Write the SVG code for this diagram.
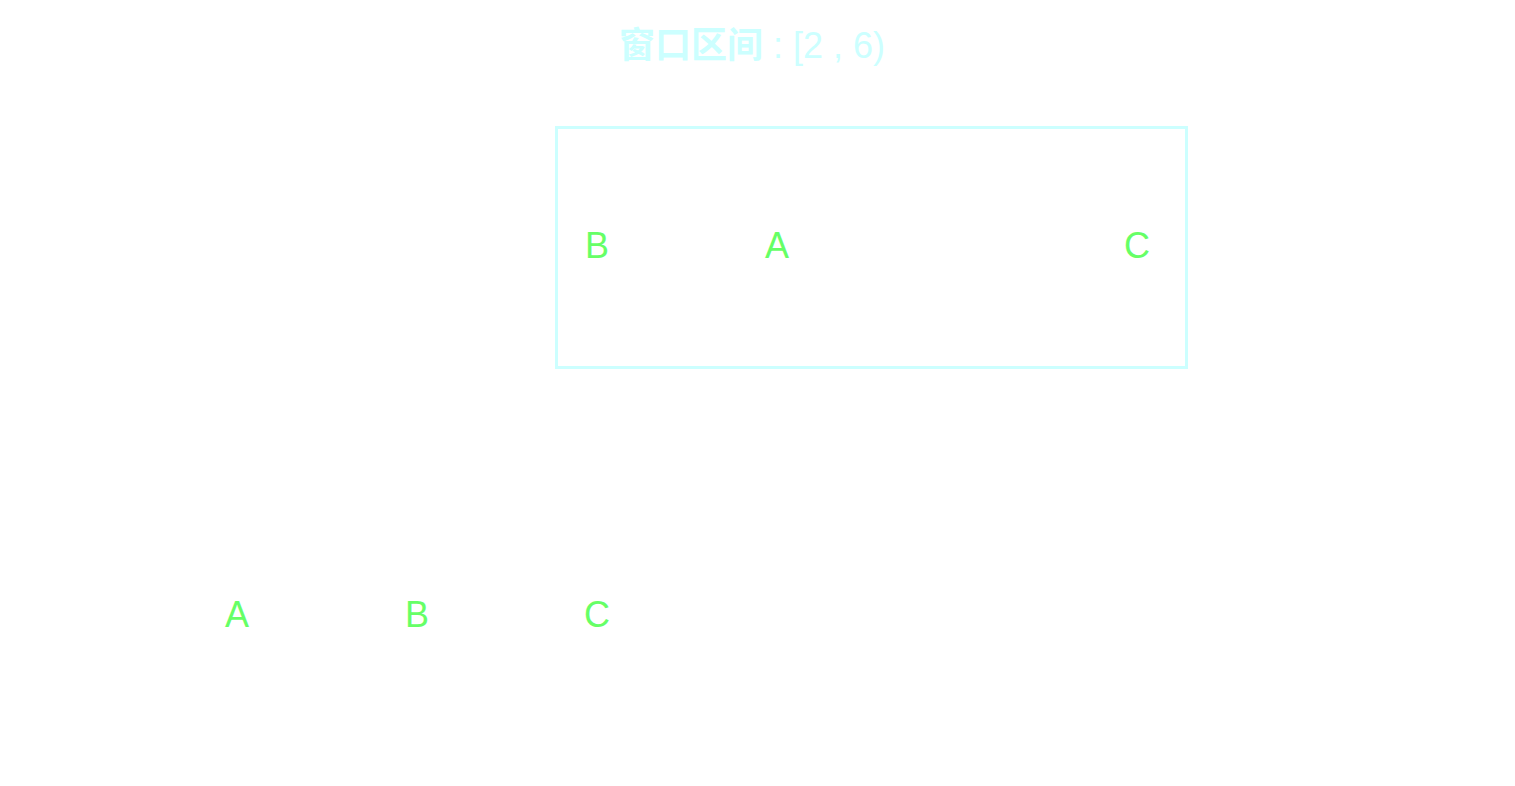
<svg xmlns="http://www.w3.org/2000/svg" width="1515" height="786" viewBox="0 0 1515 786">
<style>
.t{font-family:"Liberation Sans","Noto Sans CJK SC",sans-serif;font-size:36px;text-anchor:middle}
.title{fill:#ccffff}
.cjk{font-weight:bold}
.l{fill:#66ff66}
.win{fill:none;stroke:#ccffff;stroke-width:3}
</style>
<rect width="1515" height="786" fill="#ffffff"/>
<g id="title"><text class="t title" x="752" y="58"><tspan class="cjk">窗口区间</tspan> : [2 , 6)</text></g>
<g id="window"><rect class="win" x="556.500" y="127.500" width="630" height="240"/></g>
<g id="win-B"><text class="t l" x="597" y="258">B</text></g>
<g id="win-A"><text class="t l" x="777" y="258">A</text></g>
<g id="win-C"><text class="t l" x="1137" y="258">C</text></g>
<g id="row-A"><text class="t l" x="237" y="627">A</text></g>
<g id="row-B"><text class="t l" x="417" y="627">B</text></g>
<g id="row-C"><text class="t l" x="597" y="627">C</text></g>
<g id="connectors"></g>
</svg>
